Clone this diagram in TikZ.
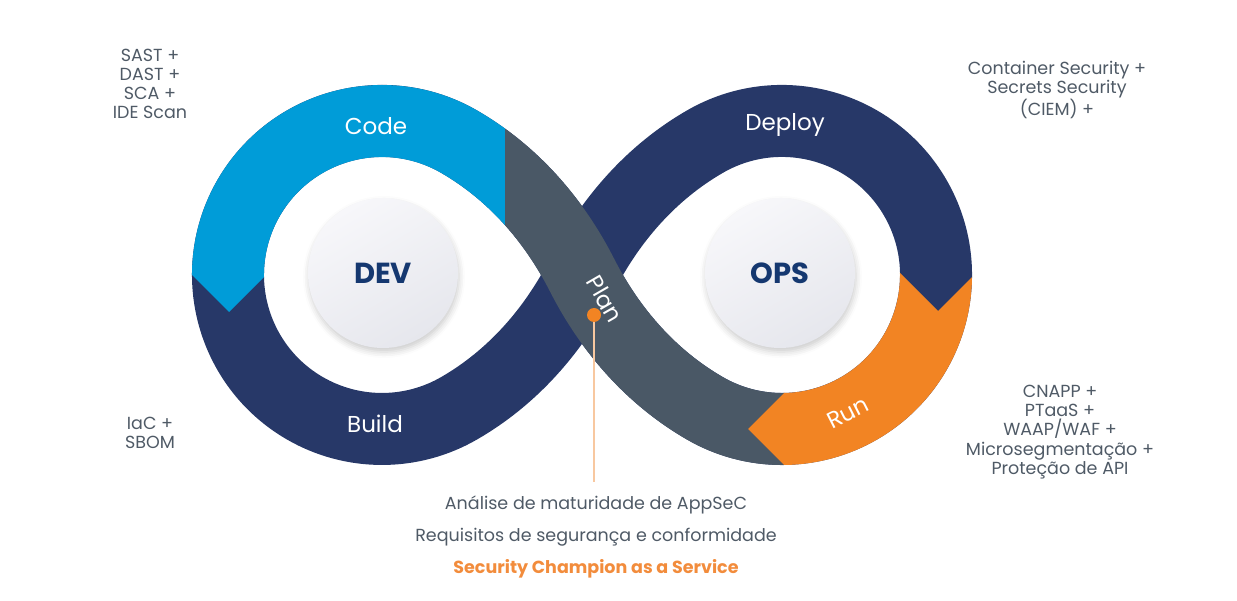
\documentclass[tikz,border=0pt]{standalone}
\usepackage{fontspec}
\setmainfont{Poppins}
\usetikzlibrary{shadows.blur}
\definecolor{navyband}{RGB}{39,56,104}
\definecolor{codeblue}{RGB}{0,156,216}
\definecolor{plangray}{RGB}{74,88,102}
\definecolor{runorange}{RGB}{242,132,35}
\definecolor{hubtext}{RGB}{21,56,112}
\definecolor{hubtop}{RGB}{247,247,250}
\definecolor{hubbottom}{RGB}{230,231,237}
\definecolor{notegray}{RGB}{79,90,102}
\definecolor{championorange}{RGB}{242,140,60}
\definecolor{leaderpeach}{RGB}{248,200,160}
\begin{document}
\begin{tikzpicture}
  [x=1pt,y=-1pt,
   band/.style={line width=72},
   bandlabel/.style={text=white,font=\fontsize{23}{27}\selectfont},
   hub/.style={circle,minimum size=150,inner sep=0,top color=hubtop,bottom color=hubbottom,
     shading angle=30,text=hubtext,font=\bfseries\fontsize{29}{32}\selectfont,
     blur shadow={shadow xshift=1pt,shadow yshift=-4pt,shadow blur radius=6pt,shadow opacity=20}},
   note/.style={text=notegray,align=center,font=\fontsize{17.5}{19.2}\selectfont}]
  \useasboundingbox (0,0) rectangle (1237,601);
  \coordinate (dev) at (382,275);
  \coordinate (ops) at (782,275);
  \coordinate (x) at (582,275);
  % whole loop in navy, the other phases go on top
  \draw[band,navyband] (x) .. controls (610.1,219.8) and (651.3,172.6) .. (705,141.6)
    arc[start angle=240,end angle=480,radius=154]
    .. controls (651.3,377.4) and (610.1,330.2) .. (x)
    .. controls (553.9,219.8) and (512.7,172.6) .. (459,141.6)
    arc[start angle=300,end angle=60,radius=154]
    .. controls (512.7,377.4) and (553.9,330.2) .. (x);
  % code
  \begin{scope}
    \clip (100,0) -- (505,0) -- (505,252) -- (289,252) -- (229,312) -- (169,252) -- (100,252) -- cycle;
    \draw[band,codeblue] (dev) ++(150:154) arc[start angle=150,end angle=300,radius=154]
      .. controls (512.7,172.6) and (553.9,219.8) .. (x);
  \end{scope}
  % plan
  \begin{scope}
    \clip (505,0) -- (808,0) -- (808,369) -- (748,429) -- (808,489) -- (808,601) -- (505,601) -- cycle;
    \draw[band,plangray] (459,141.6) .. controls (512.7,172.6) and (553.9,219.8) .. (x)
      .. controls (610.1,330.2) and (651.3,377.4) .. (705,408.4)
      arc[start angle=120,end angle=60,radius=154];
  \end{scope}
  % run
  \begin{scope}
    \clip (808,369) -- (748,429) -- (808,489) -- (808,601) -- (1237,601) -- (1237,251)
      -- (998,251) -- (938,311) -- (878,251) -- (808,251) -- cycle;
    \draw[band,runorange] (ops) circle[radius=154];
  \end{scope}
  \node[bandlabel] (code) at (376,126) {Code};
  \node[bandlabel] (build) at (375,424) {Build};
  \node[bandlabel] (deploy) at (785,125) {Deploy};
  \node[bandlabel,rotate=27] (run) at (848,413) {Run};
  \node[bandlabel,rotate=-60] (plan) at (605,299) {Plan};
  \node[hub] (devhub) at (383,273) {DEV};
  \node[hub] (opshub) at (780,273) {OPS};
  \node[circle,fill=runorange,inner sep=0,minimum size=14] (plandot) at (594,315) {};
  \coordinate (leaderend) at (594,482);
  \draw[leaderpeach,line width=1.2] (plandot) -- (leaderend);
  \node[note] (devnotes) at (150,84) {SAST +\\DAST +\\SCA +\\IDE Scan};
  \node[note] (buildnotes) at (150,433) {IaC +\\SBOM};
  \node[note] (deploynotes) at (1057,90) {Container Security +\\Secrets Security\\(CIEM) +};
  \node[note] (runnotes) at (1060,432) {CNAPP +\\PTaaS +\\WAAP/WAF +\\Microsegmentação +\\Proteção de API};
  \node[note] (maturity) at (596,505) {Análise de maturidade de AppSeC};
  \node[note] (requirements) at (596,537) {Requisitos de segurança e conformidade};
  \node[note,text=championorange,font=\bfseries\fontsize{17.5}{19.2}\selectfont] (champion) at (596,569) {Security Champion as a Service};
\end{tikzpicture}
\end{document}
